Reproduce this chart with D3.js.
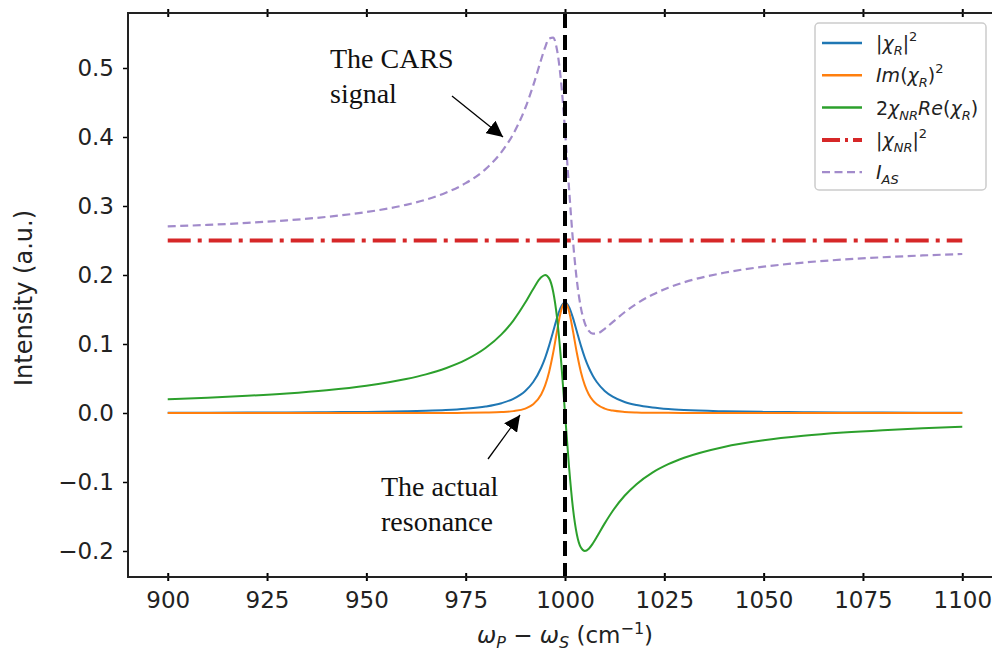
<!DOCTYPE html>
<html>
<head>
<meta charset="utf-8">
<style>
    body { margin: 0; background: #fff; overflow: hidden; }
    .tick text { font-family: "DejaVu Sans", sans-serif; font-size: 23px; fill: #222; }
    .note { font-family: "Liberation Serif", "Times New Roman", serif; font-size: 28px; fill: #111; }
    .leg { font-family: "DejaVu Sans", sans-serif; font-size: 19px; fill: #222; }
</style>
<script src="https://d3js.org/d3.v7.min.js"></script>
</head>
<body>
<svg width="992" height="656"></svg>
<script>
    // wavenumber samples (cm^-1), denser near the resonance
    const wavenumbers = [900, 910, 920, 930, 940, 950, 960, 965, 970, 975, 980, 984, 987, 990, 992, 994,
        995, 996, 997, 998, 999, 1000, 1001, 1002, 1003, 1004, 1005, 1006, 1007, 1008, 1010, 1012,
        1015, 1018, 1022, 1026, 1030, 1040, 1050, 1060, 1070, 1080, 1090, 1100];

    const absChiR2 = [0.0004, 0.0005, 0.0006, 0.0008, 0.0011, 0.0016, 0.0025, 0.0032, 0.0043, 0.0062, 0.0094,
        0.0142, 0.0206, 0.032, 0.0449, 0.0656, 0.08, 0.0976, 0.1176, 0.1379, 0.1538, 0.16, 0.1538, 0.1379,
        0.1176, 0.0976, 0.08, 0.0656, 0.0541, 0.0449, 0.032, 0.0237, 0.016, 0.0115, 0.0079, 0.0057, 0.0043,
        0.0025, 0.0016, 0.0011, 0.0008, 0.0006, 0.0005, 0.0004];

    const imChiR2 = [0, 0, 0, 0, 0, 0, 0, 0.0001, 0.0001, 0.0002, 0.0006, 0.0013, 0.0027, 0.0064, 0.0126, 0.0269,
        0.04, 0.0595, 0.0865, 0.1189, 0.1479, 0.16, 0.1479, 0.1189, 0.0865, 0.0595, 0.04, 0.0269, 0.0183,
        0.0126, 0.0064, 0.0035, 0.0016, 0.0008, 0.0004, 0.0002, 0.0001, 0, 0, 0, 0, 0, 0, 0];

    const crossTerm = [0.0200, 0.0222, 0.0249, 0.0284, 0.0331, 0.0396, 0.0492, 0.056, 0.0649, 0.0769, 0.0941,
        0.1139, 0.134, 0.16, 0.1798, 0.1967, 0.2, 0.1951, 0.1765, 0.1379, 0.0769, 0, -0.0769, -0.1379,
        -0.1765, -0.1951, -0.2, -0.1967, -0.1892, -0.1798, -0.16, -0.142, -0.12, -0.1032, -0.0864, -0.0742,
        -0.0649, -0.0492, -0.0396, -0.0331, -0.0284, -0.0249, -0.0222, -0.0200];

    const iAS = [0.2704, 0.2726, 0.2755, 0.2792, 0.2842, 0.2912, 0.3017, 0.3092, 0.3192, 0.3331, 0.3535,
        0.3781, 0.4046, 0.442, 0.4747, 0.5123, 0.53, 0.5427, 0.5441, 0.5259, 0.4808, 0.41, 0.3269, 0.25,
        0.1912, 0.1524, 0.13, 0.1189, 0.1149, 0.1152, 0.122, 0.1317, 0.146, 0.1583, 0.1714, 0.1815, 0.1895,
        0.2032, 0.212, 0.218, 0.2224, 0.2257, 0.2283, 0.2304];

    const nrWavenumbers = [900, 1100];
    const absChiNR2 = [0.25, 0.25];

    const xTicks = [900, 925, 950, 975, 1000, 1025, 1050, 1075, 1100];
    const yTicks = [-0.2, -0.1, 0.0, 0.1, 0.2, 0.3, 0.4, 0.5];

    const svg = d3.select('svg');
    const plotL = 128, plotR = 1002, plotT = 13, plotB = 577;
    const edge = 992; // the picture stops before the right spine

    const x = d3.scaleLinear().domain([890, 1110]).range([plotL, plotR]);
    const y = d3.scaleLinear().domain([-0.2377, 0.5797]).range([plotB, plotT]);

    // arrow head
    svg.append('defs').append('marker')
        .attr('id', 'head')
        .attr('viewBox', '0 0 10 10')
        .attr('refX', 10).attr('refY', 5)
        .attr('markerWidth', 16).attr('markerHeight', 16)
        .attr('markerUnits', 'userSpaceOnUse')
        .attr('orient', 'auto')
        .append('path').attr('d', 'M0,0 L10,5 L0,10 Z').attr('fill', '#000');

    const line = (xs, ys) => d3.line()
        .x((d, i) => x(xs[i]))
        .y(d => y(d))
        .curve(d3.curveMonotoneX)(ys);

    const series = [
        { v: absChiR2, color: '#1f77b4', w: 2, dash: null },
        { v: imChiR2, color: '#ff7f0e', w: 2, dash: null },
        { v: crossTerm, color: '#2ca02c', w: 2, dash: null },
        { v: iAS, color: '#a28bcb', w: 2.2, dash: '8,4.5' }
    ];

    svg.append('path')
        .attr('d', line(nrWavenumbers, absChiNR2))
        .attr('fill', 'none').attr('stroke', '#d62728')
        .attr('stroke-width', 4).attr('stroke-dasharray', '23,7,4,7');

    svg.selectAll('.curve')
        .data(series)
        .enter()
        .append('path')
        .classed('curve', true)
        .attr('d', s => line(wavenumbers, s.v))
        .attr('fill', 'none')
        .attr('stroke', s => s.color)
        .attr('stroke-width', s => s.w)
        .attr('stroke-dasharray', s => s.dash);

    // resonance marker
    svg.append('line')
        .attr('x1', x(1000)).attr('x2', x(1000))
        .attr('y1', plotT).attr('y2', plotB)
        .attr('stroke', '#000').attr('stroke-width', 4)
        .attr('stroke-dasharray', '15,7');

    // axes
    const xAxis = svg.append('g')
        .attr('transform', `translate(0,${plotB})`)
        .call(d3.axisBottom(x).tickValues(xTicks).tickSize(4).tickPadding(11).tickFormat(d3.format('d')));
    xAxis.selectAll('.tick line').attr('y1', -4).attr('stroke-width', 2);

    svg.append('g')
        .attr('transform', `translate(0,${plotT})`)
        .call(d3.axisTop(x).tickValues(xTicks).tickSize(4).tickFormat(''))
        .selectAll('.tick line').attr('y1', 4).attr('stroke-width', 2);

    svg.append('g')
        .attr('transform', `translate(${plotL},0)`)
        .call(d3.axisLeft(y).tickValues(yTicks).tickSize(5).tickPadding(9)
            .tickFormat(d => d3.format('.1f')(d).replace('-', '\u2212')))
        .selectAll('.tick line').attr('stroke-width', 1.5);

    svg.selectAll('.domain').remove();
    // spines: left, top, bottom (the right one falls outside the picture)
    svg.append('path')
        .attr('d', `M${edge},${plotT} H${plotL} V${plotB} H${edge}`)
        .attr('fill', 'none').attr('stroke', '#222').attr('stroke-width', 2);

    // axis titles
    svg.append('text')
        .attr('transform', 'translate(32,298) rotate(-90)')
        .attr('text-anchor', 'middle')
        .style('font-family', '"DejaVu Sans", sans-serif').style('font-size', '24px').style('fill', '#222')
        .text('Intensity (a.u.)');

    const xt = svg.append('text')
        .attr('x', x(1000)).attr('y', 643)
        .attr('text-anchor', 'middle')
        .style('font-family', '"DejaVu Sans", sans-serif').style('font-size', '23px').style('fill', '#222');
    xt.append('tspan').style('font-style', 'italic').text('\u03c9');
    xt.append('tspan').style('font-style', 'italic').style('font-size', '16px').attr('dy', 5).text('P');
    xt.append('tspan').attr('dy', -5).text(' \u2212 ');
    xt.append('tspan').style('font-style', 'italic').text('\u03c9');
    xt.append('tspan').style('font-style', 'italic').style('font-size', '16px').attr('dy', 5).text('S');
    xt.append('tspan').attr('dy', -5).text(' (cm');
    xt.append('tspan').style('font-size', '16px').attr('dy', -9).text('\u22121');
    xt.append('tspan').attr('dy', 9).text(')');

    // annotations
    svg.append('text').classed('note', true).attr('x', 330).attr('y', 68).text('The CARS');
    svg.append('text').classed('note', true).attr('x', 330).attr('y', 103).text('signal');
    svg.append('line')
        .attr('x1', 452).attr('y1', 96).attr('x2', 503).attr('y2', 137)
        .attr('stroke', '#000').attr('stroke-width', 1.3).attr('marker-end', 'url(#head)');

    svg.append('text').classed('note', true).attr('x', 381).attr('y', 496).text('The actual');
    svg.append('text').classed('note', true).attr('x', 381).attr('y', 531).text('resonance');
    svg.append('line')
        .attr('x1', 488).attr('y1', 459).attr('x2', 520).attr('y2', 415)
        .attr('stroke', '#000').attr('stroke-width', 1.3).attr('marker-end', 'url(#head)');

    // legend
    const legendItems = [
        { color: '#1f77b4', w: 2.5, dash: null, parts: [['|', ''], ['\u03c7', 'i'], ['R', 'sub'], ['|', ''], ['2', 'sup']] },
        { color: '#ff7f0e', w: 2.5, dash: null, parts: [['Im', 'i'], ['(', ''], ['\u03c7', 'i'], ['R', 'sub'], [')', ''], ['2', 'sup']] },
        { color: '#2ca02c', w: 2.5, dash: null, parts: [['2', ''], ['\u03c7', 'i'], ['NR', 'sub'], ['Re', 'i'], ['(', ''], ['\u03c7', 'i'], ['R', 'sub'], [')', '']] },
        { color: '#d62728', w: 4, dash: '18,5,3,5', parts: [['|', ''], ['\u03c7', 'i'], ['NR', 'sub'], ['|', ''], ['2', 'sup']] },
        { color: '#a28bcb', w: 2.2, dash: '8,4.5', parts: [['I', 'i'], ['AS', 'sub']] }
    ];

    svg.append('rect')
        .attr('x', 815).attr('y', 23).attr('width', 171).attr('height', 167)
        .attr('rx', 4).attr('fill', '#fff').attr('fill-opacity', 0.85)
        .attr('stroke', '#ccc').attr('stroke-width', 1.5);

    const rows = svg.selectAll('.legrow')
        .data(legendItems)
        .enter()
        .append('g')
        .classed('legrow', true)
        .attr('transform', (d, i) => `translate(0,${43 + i * 32.3})`);

    rows.append('line')
        .attr('x1', 822).attr('x2', 862)
        .attr('stroke', d => d.color).attr('stroke-width', d => d.w)
        .attr('stroke-dasharray', d => d.dash);

    rows.each(function (d) {
        const t = d3.select(this).append('text').classed('leg', true).attr('x', 876).attr('y', 7);
        let shift = 0;
        d.parts.forEach(([str, kind]) => {
            const target = kind === 'sub' ? 5 : kind === 'sup' ? -9 : 0;
            const ts = t.append('tspan').attr('dy', target - shift).text(str);
            if (kind === 'i' || kind === 'sub') ts.style('font-style', 'italic');
            if (kind === 'sub' || kind === 'sup') ts.style('font-size', '13px');
            shift = target;
        });
    });
</script>
</body>
</html>
